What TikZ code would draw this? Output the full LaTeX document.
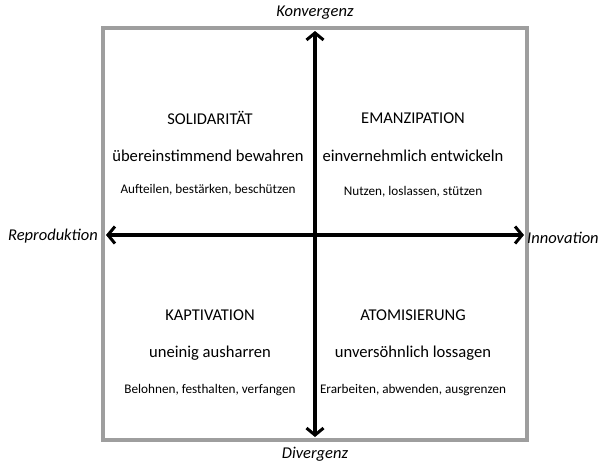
\documentclass[tikz,border=0pt]{standalone}
\usepackage{fontspec}
\setmainfont{Carlito}
\usetikzlibrary{arrows.meta,positioning}

\begin{document}
\begin{tikzpicture}[
    x=1pt, y=-1pt,
    frame/.style={draw=black!38, line width=4pt},
    axis/.style={{Straight Barb[length=7pt,width=17pt,line width=3pt]}-{Straight Barb[length=7pt,width=17pt,line width=3pt]}, line width=3.5pt},
    pole/.style={font=\fontsize{16.5}{19}\selectfont\itshape, inner sep=1pt},
    ttl/.style={font=\fontsize{16.5}{19}\selectfont, inner sep=1pt},
    mid/.style={font=\fontsize{16.6}{20}\selectfont, inner sep=1pt},
    sml/.style={font=\fontsize{13.2}{15}\selectfont, inner sep=1pt}
]
\useasboundingbox (0,0) rectangle (604,463);
\draw[frame] (103,28) rectangle (527,440);

% Achsen
\coordinate (top) at (315,31);
\coordinate (bot) at (315,437);
\coordinate (lft) at (106,235);
\coordinate (rgt) at (524,235);
\draw[axis] (bot) -- (top);
\draw[axis] (lft) -- (rgt);

\node[pole] (konv) at (315,13) {Konvergenz};
\node[pole] (div) at (315,454) {Divergenz};
\node[pole, anchor=east] (repro) at (99,236) {Reproduktion};
\node[pole, anchor=west] (inno) at (526,238) {Innovation};

% Quadranten
\node[ttl] (sol) at (210,118) {SOLIDARITÄT};
\node[mid] (solm) at (208,156) {übereinstimmend bewahren};
\node[sml] (sols) at (208,190) {Aufteilen, bestärken, beschützen};

\node[ttl] (ema) at (413,118) {EMANZIPATION};
\node[mid] (emam) at (413,156) {einvernehmlich entwickeln};
\node[sml] (emas) at (413,192) {Nutzen, loslassen, stützen};

\node[ttl] (kap) at (210,315) {KAPTIVATION};
\node[mid] (kapm) at (210,353) {uneinig ausharren};
\node[sml] (kaps) at (210,390) {Belohnen, festhalten, verfangen};

\node[ttl] (ato) at (413,315) {ATOMISIERUNG};
\node[mid] (atom) at (413,353) {unversöhnlich lossagen};
\node[sml] (atos) at (413,390) {Erarbeiten, abwenden, ausgrenzen};
\end{tikzpicture}
\end{document}
